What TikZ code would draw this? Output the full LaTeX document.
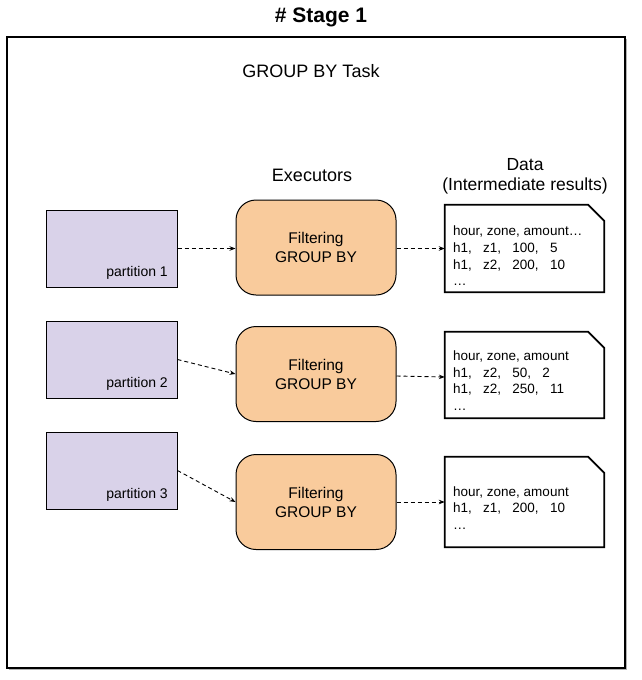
\documentclass[tikz,border=0pt]{standalone}
\usepackage{fontspec}
\setmainfont{Liberation Sans}
\usetikzlibrary{arrows.meta}
\definecolor{partfill}{HTML}{D9D2E9}
\definecolor{execfill}{HTML}{F9CB9C}
\tikzset{
  partbox/.style={draw=black, line width=1pt, fill=partfill, minimum width=131pt, minimum height=77pt, inner sep=0pt},
  execbox/.style={draw=black, line width=1pt, fill=execfill, rounded corners=20pt, minimum width=160pt, minimum height=95pt, align=center, inner sep=0pt, font=\fontsize{15.5}{19}\selectfont},
  docbox/.style={draw=none, minimum width=159pt, minimum height=87pt, inner sep=0pt},
  docline/.style={line width=1.8pt, line join=miter},
  doctext/.style={anchor=west, align=left, inner sep=0pt, font=\fontsize{13.5}{16.6}\selectfont},
  partlabel/.style={anchor=base east, inner sep=0pt, font=\fontsize{14}{16}\selectfont},
  flow/.style={dashed, dash pattern=on 4pt off 3pt, line width=0.9pt, -{Stealth[length=6pt,width=4.5pt]}},
  heading/.style={inner sep=0pt, align=center, font=\fontsize{18}{20}\selectfont},
}
\begin{document}
\begin{tikzpicture}[x=1pt, y=-1pt]
\useasboundingbox (0,0) rectangle (642,680);
% outer frame with shadow
\fill[gray!60] (8.5,38.5) rectangle (626.5,669.5);
\draw[line width=1.6pt, fill=white] (7,37) rectangle (625,668);
\node[inner sep=0pt, font=\fontsize{21}{24}\selectfont\bfseries] (title) at (321,17) {\# Stage 1};
\node[heading] (task) at (311,71) {GROUP BY Task};
\node[heading] (exlabel) at (312,175) {Executors};
\node[heading, font=\fontsize{17.5}{20}\selectfont] (datalabel) at (525,176) {Data\\(Intermediate results)};

% partitions
\node[partbox] (p1) at (111.5,248.5) {};
\node[partbox] (p2) at (111.5,359.5) {};
\node[partbox] (p3) at (111.5,470.5) {};
\node[partlabel] (pl1) at (168,276) {partition 1};
\node[partlabel] (pl2) at (168,387) {partition 2};
\node[partlabel] (pl3) at (168,498) {partition 3};

% executors
\node[execbox] (e1) at (316,247.5) {Filtering\\GROUP BY};
\node[execbox] (e2) at (316,374) {Filtering\\GROUP BY};
\node[execbox] (e3) at (316,502) {Filtering\\GROUP BY};

% data documents
\node[docbox] (d1) at (524.5,248.5) {};
\node[docbox, minimum height=86pt] (d2) at (524.5,375) {};
\node[docbox, minimum height=90pt] (d3) at (524.5,502) {};
\foreach \d in {d1,d2,d3}{
  \draw[docline] (\d.north west) -- ([xshift=-16pt]\d.north east) -- ([yshift=-16pt]\d.north east) -- (\d.south east) -- (\d.south west) -- cycle;
}
\node[doctext] (t1) at (453,256) {hour, zone, amount…\\h1,\ \ \ z1,\ \ \ 100,\ \ \ 5\\h1,\ \ \ z2,\ \ \ 200,\ \ \ 10\\…};
\node[doctext] (t2) at (453,380.5) {hour, zone, amount\\h1,\ \ \ z2,\ \ \ 50,\ \ \ 2\\h1,\ \ \ z2,\ \ \ 250,\ \ \ 11\\…};
\node[doctext] (t3) at (453,508) {hour, zone, amount\\h1,\ \ \ z1,\ \ \ 200,\ \ \ 10\\…};

% connectors
\draw[flow] (p1.east) -- (p1.east -| e1.west);
\draw[flow] (p2.east) -- (e2.west);
\draw[flow] (p3.east) -- (e3.west);
\draw[flow] (e1.east |- d1.west) -- (d1.west);
\draw[flow] ([yshift=-2pt]e2.east) -- ([yshift=-2pt]d2.west);
\draw[flow] (e3.east) -- (d3.west);
\end{tikzpicture}
\end{document}
